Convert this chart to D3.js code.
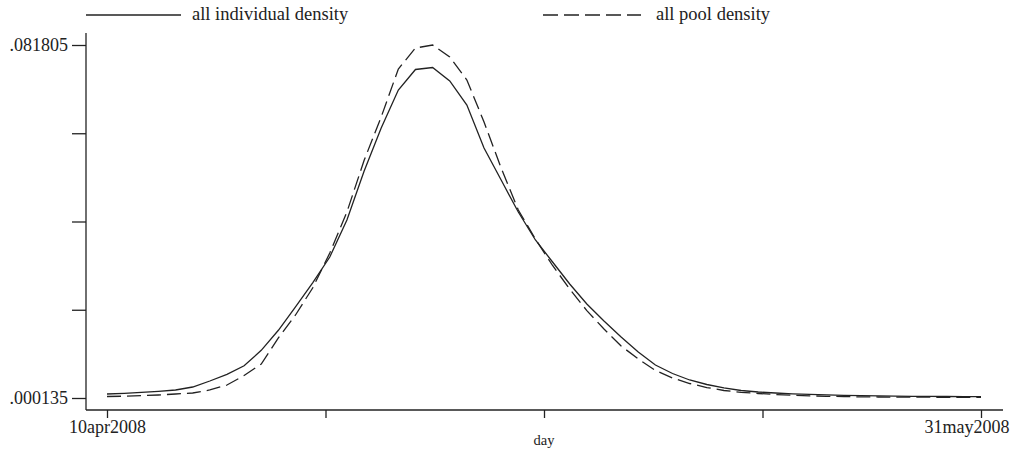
<!DOCTYPE html>
<html>
<head>
<meta charset="utf-8">
<script src="https://cdn.jsdelivr.net/npm/d3@7"></script>
<style>
  body { margin: 0; background: #fff; }
  text { font-family: "Liberation Serif", "Times New Roman", serif; fill: #222; }
</style>
</head>
<body>
<div id="chart"></div>
<script>
// daily kernel density values, 10apr2008 .. 31may2008
let startDay = new Date(2008, 3, 10),
    endDay = new Date(2008, 4, 31);

let individualDensity = [
  0.00106, 0.00122, 0.00145, 0.00169, 0.00199, 0.00268, 0.00407, 0.00562, 0.00759, 0.01117,
  0.01580, 0.02124, 0.02679, 0.03276, 0.04132, 0.05258, 0.06260, 0.07139, 0.07614, 0.07660,
  0.07348, 0.06792, 0.05798, 0.05057, 0.04317, 0.03669, 0.03160, 0.02651, 0.02188, 0.01795,
  0.01425, 0.01078, 0.00777, 0.00580, 0.00430, 0.00326, 0.00249, 0.00187, 0.00152, 0.00129,
  0.00111, 0.00097, 0.00085, 0.00076, 0.00069, 0.00062, 0.00057, 0.00053, 0.00051, 0.00048,
  0.00046, 0.00044
];

let poolDensity = [
  0.00048, 0.00055, 0.00067, 0.00083, 0.00106, 0.00129, 0.00199, 0.00314, 0.00534, 0.00800,
  0.01402, 0.01934, 0.02559, 0.03368, 0.04317, 0.05508, 0.06515, 0.07625, 0.08111, 0.081805,
  0.07903, 0.07371, 0.06399, 0.05335, 0.04363, 0.03692, 0.03079, 0.02535, 0.02036, 0.01610,
  0.01217, 0.00916, 0.00650, 0.00476, 0.00349, 0.00256, 0.00187, 0.00145, 0.00118, 0.00094,
  0.00076, 0.00064, 0.00053, 0.00046, 0.00039, 0.00037, 0.00034, 0.00032, 0.00032, 0.00030,
  0.00030, 0.00030
];

let yMin = 0.000135, yMax = 0.081805;
let yTickLabels = [".000135", "", "", "", ".081805"];
let xTickLabels = ["10apr2008", "", "", "", "31may2008"];
let seriesNames = ["all individual density", "all pool density"];

let width = 1017, height = 452;
let plot = { left: 86, right: 1003, top: 33, bottom: 410 };

let svg = d3.select("#chart").append("svg")
  .attr("width", width)
  .attr("height", height);

let days = d3.timeDays(startDay, d3.timeDay.offset(endDay, 1));

let x = d3.scaleTime().domain([startDay, endDay]).range([107, 981]);
let y = d3.scaleLinear().domain([yMin, yMax]).range([398, 45]);

// y axis
let yTicks = d3.range(5).map(function(i) { return yMin + i * (yMax - yMin) / 4; });
svg.append("g")
  .attr("transform", "translate(" + plot.left + ",0)")
  .call(d3.axisLeft(y).tickValues(yTicks).tickSize(14).tickPadding(4)
    .tickFormat(function(d, i) { return yTickLabels[i]; }))
  .call(function(g) {
    g.select(".domain").remove();
    g.selectAll("line").attr("stroke", "#222").attr("stroke-width", 1.3);
    g.selectAll("text").style("font-size", "18px").attr("fill", "#222");
  });

svg.append("line")
  .attr("x1", plot.left).attr("x2", plot.left)
  .attr("y1", plot.top).attr("y2", plot.bottom)
  .attr("stroke", "#222").attr("stroke-width", 1.3);

// x axis
let xTicks = d3.range(5).map(function(i) {
  return new Date(+startDay + i * (endDay - startDay) / 4);
});
svg.append("g")
  .attr("transform", "translate(0," + plot.bottom + ")")
  .call(d3.axisBottom(x).tickValues(xTicks).tickSize(8).tickPadding(2)
    .tickFormat(function(d, i) { return xTickLabels[i]; }))
  .call(function(g) {
    g.select(".domain").remove();
    g.selectAll("line").attr("stroke", "#222").attr("stroke-width", 1.3);
    g.selectAll("text").style("font-size", "18px").attr("fill", "#222");
    // last label is pulled in so it stays inside the frame
    g.selectAll("text").filter(function(d, i) { return i == 4; })
      .attr("text-anchor", "end")
      .attr("x", 1009 - x(xTicks[4]));
  });

svg.append("line")
  .attr("x1", plot.left).attr("x2", plot.right)
  .attr("y1", plot.bottom).attr("y2", plot.bottom)
  .attr("stroke", "#222").attr("stroke-width", 1.3);

svg.append("text")
  .attr("x", x(xTicks[2]))
  .attr("y", 445)
  .attr("text-anchor", "middle")
  .style("font-size", "14.5px")
  .text("day");

// curves
let line = d3.line()
  .x(function(d) { return x(d.day); })
  .y(function(d) { return y(d.value); });

let series = [
  { name: seriesNames[0], values: individualDensity, dash: null },
  { name: seriesNames[1], values: poolDensity, dash: "14,6" }
];

svg.selectAll(".curve")
  .data(series)
  .enter().append("path")
  .attr("class", "curve")
  .attr("fill", "none")
  .attr("stroke", "#222")
  .attr("stroke-width", 1.3)
  .attr("stroke-dasharray", function(d) { return d.dash; })
  .attr("d", function(d) {
    return line(d.values.map(function(v, i) { return { day: days[i], value: v }; }));
  });

// legend
let legendX = [86, 543];
let legend = svg.selectAll(".legend")
  .data(series)
  .enter().append("g")
  .attr("class", "legend")
  .attr("transform", function(d, i) { return "translate(" + legendX[i] + ",15)"; });

legend.append("line")
  .attr("x1", 0).attr("x2", function(d, i) { return i == 0 ? 95 : 98; })
  .attr("stroke", "#222")
  .attr("stroke-width", 1.3)
  .attr("stroke-dasharray", function(d) { return d.dash ? "15,6" : null; });

legend.append("text")
  .attr("x", function(d, i) { return i == 0 ? 106 : 113; })
  .attr("y", 5)
  .style("font-size", "18.5px")
  .text(function(d) { return d.name; });
</script>
</body>
</html>
